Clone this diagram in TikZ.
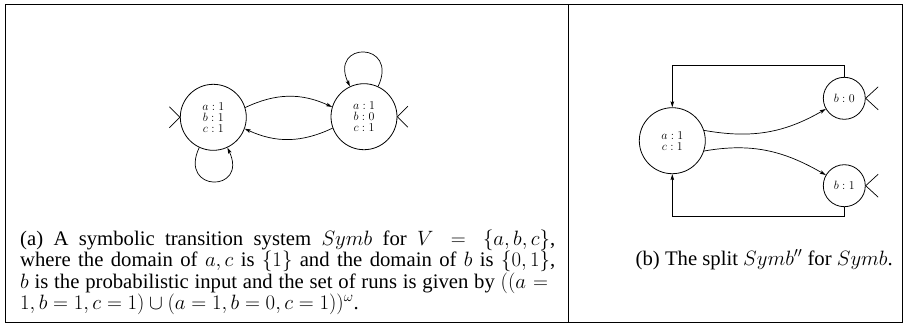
\documentclass[tikz,border=0pt]{standalone}
\usepackage{fontspec}
\setmainfont{Liberation Serif}
\usetikzlibrary{arrows.meta,calc}
\begin{document}
\lineskiplimit=-20pt\relax
\begin{tikzpicture}[x=1pt,y=1pt,
  >={Stealth[length=6pt,width=3.6pt,inset=1.2pt]},
  state/.style={circle,draw,line width=0.8pt,minimum size=66pt,inner sep=0pt,
    font=\fontsize{13}{11}\selectfont,align=center},
  smallstate/.style={state,minimum size=42pt},
  conn/.style={line width=0.7pt},
  frame/.style={line width=1pt},
  captext/.style={font=\fontsize{20.7}{21.5}\selectfont,inner sep=0pt}]
\useasboundingbox (0,0) rectangle (903,-325);
% frame
\draw[frame] (5.5,-4) rectangle (902,-322);
\draw[frame] (568,-4) -- (568,-322);
% (a)
\node[state] (s1) at (213.3,-117.3) {$a:1$\\$b:1$\\$c:1$};
\node[state] (s2) at (364,-116.7) {$a:1$\\$b:0$\\$c:1$};
\draw[conn,->] (s1.17) to[bend left=25] (s2.163);
\draw[conn,->] (s2.200) to[bend left=25] (s1.-20);
\draw[conn,->] (s1.-115) .. controls +(-115:50) and +(-65:50) .. (s1.-65);
\draw[conn,->] (s2.65) .. controls +(65:50) and +(115:50) .. (s2.115);
\draw[conn] (s1.west) ++(-10.5,10.5) -- (s1.west) -- ++(-10.5,-10.5);
\draw[conn] (s2.east) ++(10.5,10.5) -- (s2.east) -- ++(10.5,-10.5);
% (b)
\node[state] (s3) at (672.3,-140.7) {$a:1$\\$c:1$};
\node[smallstate] (s4) at (844.3,-98.3) {$b:0$};
\node[smallstate] (s5) at (844.3,-185.7) {$b:1$};
\draw[conn,->] (s3.18) to[out=-10,in=210] (s4.210);
\draw[conn,->] (s3.-18) to[out=10,in=150] (s5.150);
\coordinate (top) at (0,-65);
\coordinate (bot) at (0,-216.7);
\draw[conn,->] (s4.north) -- (s4.north |- top) -| (s3.north);
\draw[conn,->] (s5.south) -- (s5.south |- bot) -| (s3.south);
\draw[conn] (s4.east) ++(12.5,11.5) -- (s4.east) -- ++(12.5,-11.5);
\draw[conn] (s5.east) ++(12.5,11.5) -- (s5.east) -- ++(12.5,-11.5);
% captions
\node[captext,anchor=base west] (capa) at (20,-245) {\parbox[t]{535pt}{\fontsize{20.7}{21.5}\selectfont\hyphenpenalty=10000
(a) A symbolic transition system $Symb$ for $V=\{a,b,c\}$,\linebreak
where the domain of $a,c$ is $\{1\}$ and the domain of $b$ is $\{0,1\}$,\linebreak
$b$ is the probabilistic input and the set of runs is given by $((a={}$\linebreak
$1,b=1,c=1)\cup(a=1,b=0,c=1))^\omega$.}};
\node[captext,anchor=base east] (capb) at (893,-265) {(b) The split $Symb''$ for $Symb$.};
\end{tikzpicture}
\end{document}
